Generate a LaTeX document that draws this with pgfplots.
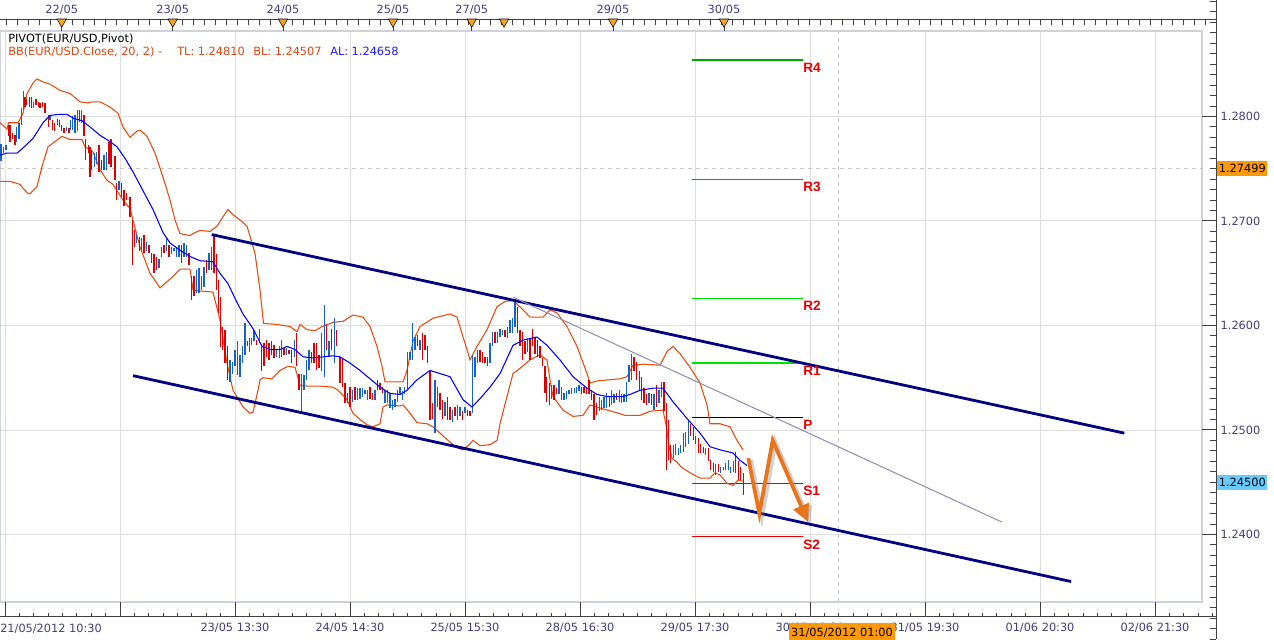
\documentclass[border=0pt]{standalone}
\usepackage{fontspec}
\setmainfont{DejaVu Sans}
\newfontfamily\libsans{Liberation Sans}
\usepackage{pgfplots}
\usepackage{pgfplotstable}
\pgfplotsset{compat=1.18}
\usetikzlibrary{arrows.meta}

\definecolor{barred}{RGB}{221,0,0}
\definecolor{barblue}{RGB}{20,100,200}
\definecolor{bband}{RGB}{232,76,16}
\definecolor{maline}{RGB}{0,0,255}
\definecolor{chan}{RGB}{0,0,128}
\definecolor{trend}{RGB}{140,140,180}
\definecolor{gridc}{RGB}{222,222,222}
\definecolor{framec}{RGB}{205,210,222}
\definecolor{axtext}{RGB}{64,64,128}
\definecolor{axc}{RGB}{64,64,64}
\definecolor{orng}{RGB}{255,153,0}
\definecolor{lblue}{RGB}{102,204,255}
\definecolor{arrowc}{RGB}{232,117,26}
\definecolor{pivgreen}{RGB}{0,165,0}
\definecolor{pivlgreen}{RGB}{0,225,0}
\definecolor{pivred}{RGB}{230,0,0}
\definecolor{tri}{RGB}{245,165,35}
\definecolor{crossc}{RGB}{200,200,200}
\definecolor{bbtext}{RGB}{225,70,20}
\definecolor{altext}{RGB}{30,30,255}

\newcommand{\lf}{\fontsize{8.5}{10}\selectfont}

\pgfplotstableread{
x lo hi
8.3 1.2781 1.2792
10 1.2776 1.2792
12.7 1.2778 1.2784
15 1.2773 1.2782
25 1.2809 1.2819
26.7 1.2811 1.2817
29.3 1.2809 1.2819
31.7 1.2808 1.2819
36 1.2811 1.2817
38.3 1.2809 1.2814
40 1.2808 1.2813
42.3 1.2809 1.2814
45 1.2803 1.2813
48.3 1.2790 1.2801
52.7 1.2787 1.2797
54.3 1.2786 1.2794
57.3 1.2792 1.2798
59.3 1.2790 1.2797
61.7 1.2786 1.2792
64 1.2784 1.2789
69 1.2784 1.2789
79.3 1.2795 1.2806
84 1.2781 1.2801
85.7 1.2758 1.2778
88.3 1.2765 1.2773
90 1.2742 1.2771
91.7 1.2749 1.2768
99 1.2747 1.2773
101.7 1.2749 1.2758
109 1.2755 1.2776
111 1.2752 1.2778
115 1.2739 1.2762
116.7 1.2720 1.2736
121.7 1.2723 1.2736
124 1.2714 1.2730
126.7 1.2720 1.2727
130 1.2704 1.2723
132.3 1.2658 1.2701
134.3 1.2675 1.2691
139.3 1.2671 1.2685
144 1.2669 1.2687
149 1.2669 1.2677
151.7 1.2660 1.2669
154 1.2650 1.2668
156.7 1.2653 1.2666
164 1.2669 1.2677
169 1.2666 1.2677
181.7 1.2660 1.2677
189 1.2658 1.2669
191.7 1.2624 1.2647
194 1.2628 1.2647
206.7 1.2650 1.2663
214 1.2650 1.2688
216.5 1.2634 1.2668
218.7 1.2612 1.2644
220.7 1.2579 1.2627
222.7 1.2577 1.2599
225 1.2564 1.2596
227.3 1.2548 1.2580
247.3 1.2580 1.2585
256.7 1.2581 1.2586
261.7 1.2556 1.2580
264 1.2561 1.2583
266.7 1.2570 1.2586
269 1.2567 1.2583
271.7 1.2572 1.2585
274 1.2569 1.2581
284 1.2572 1.2578
289 1.2573 1.2577
291.7 1.2564 1.2577
296.7 1.2561 1.2593
299 1.2538 1.2554
311.7 1.2564 1.2575
314 1.2564 1.2583
316.7 1.2557 1.2583
319 1.2559 1.2572
326.7 1.2577 1.2601
331.7 1.2577 1.2597
336.7 1.2580 1.2596
340 1.2545 1.2570
342.3 1.2541 1.2569
345 1.2526 1.2545
347.3 1.2526 1.2535
350 1.2522 1.2541
355 1.2529 1.2541
370 1.2530 1.2541
372.3 1.2529 1.2535
377.3 1.2538 1.2548
380 1.2538 1.2545
382.3 1.2535 1.2541
417.3 1.2580 1.2591
422.3 1.2567 1.2593
425 1.2577 1.2591
427.3 1.2564 1.2580
430 1.2510 1.2556
432.3 1.2511 1.2526
440 1.2519 1.2535
442.3 1.2511 1.2529
447.3 1.2510 1.2532
450 1.2510 1.2522
455 1.2513 1.2522
462.3 1.2510 1.2518
467.3 1.2513 1.2519
470 1.2513 1.2518
480 1.2565 1.2577
482.3 1.2564 1.2575
485 1.2564 1.2570
487.3 1.2561 1.2570
495 1.2583 1.2594
505 1.2589 1.2596
517.3 1.2593 1.2618
520 1.2580 1.2596
522.3 1.2567 1.2594
525 1.2573 1.2585
530 1.2567 1.2588
532.3 1.2580 1.2597
535 1.2573 1.2588
537.3 1.2570 1.2586
540 1.2569 1.2580
542.7 1.2561 1.2569
545 1.2535 1.2561
546.7 1.2527 1.2551
549.3 1.2524 1.2545
554 1.2529 1.2543
556.7 1.2534 1.2540
581.7 1.2534 1.2541
584 1.2535 1.2541
586.7 1.2534 1.2540
589 1.2534 1.2548
591.7 1.2529 1.2538
594 1.2510 1.2534
596.7 1.2514 1.2526
609.3 1.2522 1.2532
616.7 1.2529 1.2535
634 1.2556 1.2570
636.7 1.2548 1.2565
639.3 1.2538 1.2556
641.7 1.2529 1.2551
644 1.2526 1.2540
646.7 1.2524 1.2534
651.7 1.2524 1.2534
656.7 1.2522 1.2543
664 1.2518 1.2546
666.7 1.2462 1.2526
668.3 1.2471 1.2510
670.7 1.2468 1.2486
690.7 1.2494 1.2506
693.3 1.2490 1.2503
695.7 1.2487 1.2494
698.3 1.2478 1.2492
700.7 1.2478 1.2487
703.3 1.2478 1.2484
708.3 1.2470 1.2483
710.7 1.2462 1.2471
713.3 1.2460 1.2468
718.3 1.2460 1.2467
735.7 1.2459 1.2479
738.3 1.2452 1.2470
740.7 1.2452 1.2465
743.3 1.2438 1.2459
}\redbars

\pgfplotstableread{
x lo hi
1.0 1.2757 1.2774
3.3 1.2765 1.2771
6 1.2768 1.2773
16.7 1.2776 1.2790
19 1.2778 1.2794
21.7 1.2792 1.2808
23.3 1.2806 1.2824
33.3 1.2808 1.2814
50 1.2797 1.2801
66.7 1.2786 1.2790
70.7 1.2787 1.2797
72.7 1.2787 1.2800
75 1.2784 1.2801
77.3 1.2786 1.2806
81.7 1.2794 1.2806
94.3 1.2752 1.2765
96.7 1.2755 1.2766
104 1.2749 1.2763
106.7 1.2749 1.2766
119 1.2730 1.2738
136.7 1.2679 1.2688
141.7 1.2672 1.2684
146.7 1.2671 1.2680
159 1.2655 1.2664
161.7 1.2666 1.2675
166.7 1.2671 1.2685
171.7 1.2668 1.2675
174 1.2671 1.2674
176.7 1.2666 1.2675
179 1.2666 1.2677
184 1.2666 1.2679
186.7 1.2666 1.2677
196.7 1.2631 1.2653
199 1.2631 1.2655
201.7 1.2634 1.2647
204 1.2637 1.2656
209 1.2653 1.2669
211.7 1.2653 1.2675
230 1.2546 1.2567
232.3 1.2554 1.2565
235 1.2561 1.2577
237.3 1.2553 1.2585
240 1.2551 1.2572
242.3 1.2564 1.2580
245 1.2572 1.2602
249.3 1.2575 1.2588
251.7 1.2581 1.2588
254 1.2585 1.2596
259.3 1.2583 1.2597
276.7 1.2570 1.2577
279.3 1.2569 1.2580
281.7 1.2570 1.2586
286.7 1.2572 1.2578
294.3 1.2570 1.2586
301.7 1.2516 1.2554
304 1.2538 1.2553
306.7 1.2548 1.2567
309 1.2557 1.2577
321.7 1.2556 1.2593
324.3 1.2551 1.2620
329 1.2570 1.2585
334.3 1.2564 1.2607
352.3 1.2527 1.2538
357.3 1.2529 1.2540
360 1.2530 1.2540
362.3 1.2532 1.2540
365 1.2534 1.2538
367.3 1.2529 1.2538
375 1.2529 1.2538
385 1.2526 1.2538
387.3 1.2526 1.2538
390 1.2521 1.2535
392.3 1.2519 1.2529
395 1.2522 1.2530
397.3 1.2527 1.2538
400 1.2534 1.2541
402.3 1.2529 1.2537
404.7 1.2534 1.2541
407.3 1.2538 1.2575
410 1.2567 1.2575
412.3 1.2567 1.2602
415 1.2577 1.2589
420 1.2577 1.2586
435 1.2497 1.2548
437.3 1.2522 1.2541
445 1.2513 1.2527
452.3 1.2508 1.2519
457.3 1.2510 1.2524
460 1.2513 1.2522
465 1.2516 1.2522
472.3 1.2516 1.2572
475 1.2551 1.2570
477.3 1.2564 1.2577
490 1.2564 1.2583
492.3 1.2580 1.2594
497.3 1.2583 1.2594
500 1.2589 1.2597
502.3 1.2591 1.2596
507.3 1.2588 1.2599
510 1.2593 1.2605
512.3 1.2593 1.2607
515 1.2599 1.2624
527.3 1.2575 1.2588
551.7 1.2530 1.2543
559 1.2534 1.2548
561.7 1.2529 1.2541
564 1.2529 1.2535
566.7 1.2530 1.2537
569 1.2534 1.2538
571.7 1.2534 1.2540
574.3 1.2535 1.2540
576.7 1.2535 1.2541
579 1.2537 1.2543
599.3 1.2518 1.2532
601.7 1.2519 1.2529
604 1.2521 1.2532
606.7 1.2521 1.2535
611.7 1.2524 1.2538
614 1.2526 1.2534
619.3 1.2527 1.2538
621.7 1.2526 1.2534
624 1.2527 1.2534
626.7 1.2527 1.2546
629 1.2546 1.2562
631.7 1.2548 1.2573
649 1.2526 1.2535
654 1.2519 1.2534
659 1.2526 1.2538
661.7 1.2532 1.2546
673.3 1.2473 1.2486
675.7 1.2476 1.2487
678.3 1.2476 1.2483
680.7 1.2478 1.2486
683.3 1.2479 1.2497
685.7 1.2484 1.2498
688.3 1.2487 1.2510
705.7 1.2476 1.2483
715.7 1.2457 1.2467
720.7 1.2459 1.2465
723.3 1.2462 1.2465
725.7 1.2462 1.2468
728.3 1.2462 1.2471
730.7 1.2459 1.2465
733.3 1.2460 1.2470
}\bluebars

\begin{document}
\begin{tikzpicture}[x=0.75pt,y=0.75pt]
\path[use as bounding box] (0,0) rectangle (1274,639);
\fill[white] (0,0) rectangle (1274,639);

% ---------------- main plot area ----------------
\begin{axis}[
  at={(0pt,27.75pt)}, anchor=south west, scale only axis,
  width=901.5pt, height=428.25pt,
  xmin=0, xmax=1202, ymin=1.233541, ymax=1.288182,
  axis line style={draw=framec, line width=1.5pt},
  xtick={5,120,235,350,465,580,695,810,925,1040,1155},
  ytick={1.24,1.25,1.26,1.27,1.28},
  xticklabels={}, yticklabels={},
  major tick length=0pt, tick style={draw=none},
  grid=major, major grid style={draw=gridc, line width=0.75pt},
]
% crosshair
\addplot[draw=crossc, dash pattern=on 3pt off 3pt, line width=0.75pt] coordinates {(0,1.27499) (1202,1.27499)};
\addplot[draw=crossc, dash pattern=on 3pt off 3pt, line width=0.75pt] coordinates {(838.5,1.233541) (838.5,1.288182)};
% pivot levels
\addplot[pivgreen, line width=1.0pt] coordinates {(692,1.2854) (803,1.2854)};
\addplot[pivgreen, line width=1.0pt] coordinates {(692,1.2740) (803,1.2740)};
\addplot[pivlgreen, line width=1.0pt] coordinates {(692,1.2626) (803,1.2626)};
\addplot[pivlgreen, line width=1.0pt] coordinates {(692,1.2564) (803,1.2564)};
\addplot[black, line width=1.0pt] coordinates {(692,1.2512) (803,1.2512)};
\addplot[pivred, line width=1.0pt] coordinates {(692,1.2449) (803,1.2449)};
\addplot[pivred, line width=1.0pt] coordinates {(692,1.2398) (803,1.2398)};
% Bollinger bands
\addplot[bband, line width=0.8pt] coordinates {
(0,1.2794) (7,1.2788) (8.5,1.2794) (18,1.2794) (23,1.2803) (27,1.2822) (33,1.2832) (37,1.2836) (43,1.2833) (50,1.2831) (60,1.2825) (70,1.2822) (80,1.2814) (88,1.2813) (92,1.2814) (100,1.2814) (110,1.2809) (118,1.2803) (123,1.2790) (130,1.2780) (137,1.2786) (140,1.2787) (147,1.2781) (155,1.2765) (163,1.2742) (170,1.2720) (175,1.2701) (180,1.2688) (190,1.2686) (193,1.2688) (200,1.2691) (210,1.2690) (217,1.2695) (223,1.2704) (228,1.2711) (233,1.2706) (240,1.2701) (247,1.2695) (255,1.2669) (260,1.2634) (263.5,1.2602) (277,1.2601) (290,1.2599) (297,1.2594) (300,1.2601) (307,1.2596) (315,1.2595) (322,1.2599) (333,1.2603) (343,1.2604) (353,1.2610) (363,1.2608) (370,1.2599) (377,1.2580) (382,1.2561) (385,1.2546) (403,1.2546) (407,1.2557) (413,1.2585) (420,1.2599) (433,1.2607) (450,1.2611) (457,1.2608) (463,1.2589) (467,1.2577) (470,1.2567) (477,1.2580) (487,1.2596) (497,1.2618) (505,1.2623) (513,1.2624) (523,1.2615) (530,1.2608) (543,1.2608) (550,1.2615) (557,1.2612) (567,1.2599) (577,1.2580) (587,1.2554) (590,1.2545) (597,1.2547) (620,1.2549) (627,1.2551) (633,1.2562) (643,1.2563) (660,1.2562) (667,1.2575) (673,1.2580) (680,1.2573) (690,1.2560) (700,1.2545) (707,1.2524) (710,1.2506) (720,1.2506) (730,1.2503) (737,1.2490) (743,1.2481)};
\addplot[bband, line width=0.8pt] coordinates {
(0,1.2738) (10,1.2738) (20,1.2735) (27,1.2727) (30,1.2726) (37,1.2733) (42,1.2752) (48,1.2771) (55,1.2776) (62,1.2781) (70,1.2778) (82,1.2778) (85,1.2771) (93,1.2766) (100,1.2749) (107,1.2739) (113,1.2735) (123,1.2720) (130,1.2712) (140,1.2675) (150,1.2650) (160,1.2636) (173,1.2647) (180,1.2654) (190,1.2654) (193,1.2634) (200,1.2633) (213,1.2632) (220,1.2605) (227,1.2564) (233,1.2538) (243,1.2522) (250,1.2516) (253,1.2517) (258,1.2538) (260,1.2548) (263,1.2550) (272,1.2549) (280,1.2557) (288,1.2561) (295,1.2560) (300,1.2543) (307,1.2542) (320,1.2542) (333,1.2541) (338,1.2538) (347,1.2529) (353,1.2516) (360,1.2510) (367,1.2505) (373,1.2503) (380,1.2506) (383,1.2522) (387,1.2524) (400,1.2523) (403,1.2524) (410,1.2516) (417,1.2507) (427,1.2506) (433,1.2503) (440,1.2497) (448,1.2490) (457,1.2483) (463,1.2481) (467,1.2484) (473,1.2490) (480,1.2485) (490,1.2486) (497,1.2490) (500,1.2506) (507,1.2532) (513,1.2554) (520,1.2559) (530,1.2567) (540,1.2572) (547,1.2567) (550,1.2548) (553,1.2532) (563,1.2519) (573,1.2513) (583,1.2514) (590,1.2524) (600,1.2521) (615,1.2517) (625,1.2514) (640,1.2514) (650,1.2518) (663,1.2519) (667,1.2500) (669,1.2484) (672,1.2473) (677,1.2469) (682,1.2464) (690,1.2459) (700,1.2454) (710,1.2454) (715,1.2459) (720,1.2457) (727,1.2449) (733,1.2447) (738,1.2452) (743,1.2451)};
% price bars
\addplot[draw=none, forget plot, error bars/.cd, y dir=plus, y explicit, error mark=none,
  error bar style={draw=barred, line width=1.0pt}]
  table[x=x, y=lo, y error plus expr=\thisrow{hi}-\thisrow{lo}] {\redbars};
\addplot[draw=none, forget plot, error bars/.cd, y dir=plus, y explicit, error mark=none,
  error bar style={draw=barblue, line width=1.0pt}]
  table[x=x, y=lo, y error plus expr=\thisrow{hi}-\thisrow{lo}] {\bluebars};
% middle band
\addplot[maline, line width=0.8pt] coordinates {
(0,1.2763) (7,1.2765) (17,1.2765) (22,1.2769) (33,1.2779) (43,1.2794) (50,1.2801) (58,1.2802) (67,1.2802) (74,1.2798) (82,1.2796) (90,1.2790) (100,1.2782) (110,1.2776) (117,1.2771) (125,1.2760) (133,1.2747) (143,1.2729) (153,1.2711) (163,1.2689) (170,1.2679) (180,1.2672) (190,1.2666) (200,1.2662) (213,1.2661) (220,1.2650) (228,1.2640) (236,1.2624) (243,1.2611) (253,1.2597) (262,1.2580) (270,1.2577) (280,1.2577) (287,1.2580) (295,1.2577) (303,1.2570) (313,1.2569) (323,1.2570) (333,1.2571) (340,1.2570) (350,1.2564) (360,1.2557) (370,1.2549) (380,1.2541) (390,1.2535) (400,1.2534) (407,1.2538) (417,1.2548) (430,1.2557) (440,1.2554) (450,1.2551) (463,1.2529) (472,1.2522) (480,1.2530) (490,1.2541) (500,1.2554) (513,1.2581) (523,1.2586) (537,1.2589) (547,1.2581) (560,1.2567) (573,1.2551) (587,1.2540) (597,1.2534) (607,1.2532) (623,1.2532) (630,1.2534) (640,1.2538) (653,1.2540) (663,1.2540) (673,1.2527) (687,1.2511) (700,1.2497) (710,1.2484) (720,1.2481) (733,1.2478) (740,1.2471) (747,1.2466)};
% channel and trend lines
\addplot[chan, line width=2.1pt] coordinates {(211.7,1.2687) (1124.3,1.2497)};
\addplot[chan, line width=2.1pt] coordinates {(133,1.2552) (1071,1.2355)};
\addplot[trend, line width=0.75pt] coordinates {(513.3,1.2627) (1001.7,1.2412)};
% projected path arrow (shadow + arrow)
\addplot[gray, opacity=0.35, line width=3.6pt, line join=miter, -{Triangle[width=13pt,length=13pt]}] coordinates {(750.8,1.2471) (761.8,1.2418) (775.2,1.2488) (810.5,1.2410)};
\addplot[arrowc, line width=2.8pt, line join=miter, -{Triangle[width=12pt,length=13pt]}] coordinates {(748.3,1.2473) (759.3,1.2420) (772.7,1.2490) (808,1.2412)};
\end{axis}

% ---------------- right price axis ----------------
\begin{axis}[
  at={(0pt,0pt)}, anchor=south west, scale only axis,
  width=912pt, height=479.25pt,
  xmin=0, xmax=1216, ymin=1.23, ymax=1.291148,
  axis x line=none, axis y line*=right,
  axis line style={draw=axc, line width=0.75pt},
  ytick={1.24,1.25,1.26,1.27,1.28},
  yticklabels={1.2400,1.2500,1.2600,1.2700,1.2800},
  minor ytick={1.230,1.231,...,1.291},
  tick align=inside, major tick length=10.5pt, minor tick length=4.5pt,
  tick style={draw=axc, line width=0.75pt},
  yticklabel style={font=\lf, text=axtext},
]
\addplot[draw=none] coordinates {(0,1.25)};
\end{axis}

% ---------------- bottom time axis ----------------
\begin{axis}[
  at={(0pt,16.5pt)}, anchor=south west, scale only axis,
  width=912pt, height=11.25pt,
  xmin=0, xmax=1216, ymin=0, ymax=1,
  axis y line=none, axis x line*=bottom,
  axis line style={draw=axc, line width=0.75pt},
  xtick={5,120,235,350,465,580,695,810,925,1040,1155},
  xticklabels={,,23/05 13:30,24/05 14:30,25/05 15:30,28/05 16:30,29/05 17:30,30/05 18:30,31/05 19:30,01/06 20:30,02/06 21:30},
  minor xtick={5,19.375,...,1216},
  tick align=inside, major tick length=11.25pt, minor tick length=3pt,
  tick style={draw=axc, line width=0.75pt},
  xticklabel style={font=\lf, text=axtext, anchor=base, yshift=-11.25pt},
]
\addplot[draw=none] coordinates {(0,0.5)};
\end{axis}

% ---------------- top date axis ----------------
\begin{axis}[
  at={(0pt,456pt)}, anchor=south west, scale only axis,
  width=912pt, height=8.25pt,
  xmin=0, xmax=1216, ymin=0, ymax=11,
  axis y line=none, axis x line*=top,
  axis line style={draw=axc, line width=0.75pt},
  xtick={61.7,172.7,283,393,471.7,613,724},
  xticklabels={22/05,23/05,24/05,25/05,27/05,29/05,30/05},
  minor xtick={6,17,...,1210},
  tick align=inside, major tick length=8.25pt, minor tick length=3.75pt,
  tick style={draw=axc, line width=0.75pt},
  xticklabel style={font=\lf, text=axtext, anchor=base, yshift=5.2pt},
  clip=false,
]
\addplot[only marks, mark=triangle*, mark size=4.1pt, mark options={rotate=180, fill=tri, draw=none}]
  coordinates {(61.7,9.25) (172.7,9.25) (283,9.25) (393,9.25) (471.7,9.25) (504,9.25) (613,9.25) (724,9.25)};
\end{axis}

% ---------------- annotations ----------------
\node[anchor=base west, font=\lf, inner sep=0] at (8,596.3) {PIVOT(EUR/USD,Pivot)};
\node[anchor=base west, font=\lf, text=bbtext, inner sep=0] at (8,583.7) {BB(EUR/USD.Close, 20, 2) -};
\node[anchor=base west, font=\lf, text=bbtext, inner sep=0] at (177,583.7) {TL: 1.24810};
\node[anchor=base west, font=\lf, text=bbtext, inner sep=0] at (253,583.7) {BL: 1.24507};
\node[anchor=base west, font=\lf, text=altext, inner sep=0] at (330,583.7) {AL: 1.24658};

\begin{scope}[every node/.style={anchor=north west, inner sep=0, text=pivred, font={\libsans\bfseries\fontsize{10.2}{12}\selectfont}}]
\node at (803,576.5) {R4};
\node at (803,457.5) {R3};
\node at (803,338.5) {R2};
\node at (803,273.5) {R1};
\node at (803,219.5) {P};
\node at (803,153.5) {S1};
\node at (803,99.5) {S2};
\end{scope}

\node[anchor=west, fill=orng, inner xsep=1.2pt, inner ysep=2.5pt, font=\lf, text=black] at (1217,470.5) {1.27499};
\node[anchor=west, fill=lblue, inner xsep=1.2pt, inner ysep=2.5pt, font=\lf, text=black] at (1217,156.5) {1.24500};

\node[anchor=base west, font=\lf, text=axtext, inner sep=0] at (0,7) {21/05/2012 10:30};
\node[anchor=north, fill=orng, minimum width=79.5pt, minimum height=14pt, inner sep=0, font=\lf, text=black] at (842,16) {31/05/2012 01:00};
\end{tikzpicture}
\end{document}
